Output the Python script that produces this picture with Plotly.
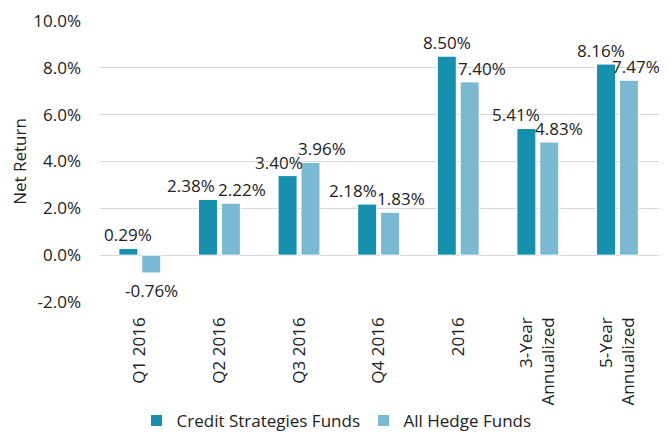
import plotly.graph_objects as go

categories = ["Q1 2016", "Q2 2016", "Q3 2016", "Q4 2016", "2016", "3-Year<br>Annualized", "5-Year<br>Annualized"]
credit = [0.29, 2.38, 3.40, 2.18, 8.50, 5.41, 8.16]
allhf = [-0.76, 2.22, 3.96, 1.83, 7.40, 4.83, 7.47]
ytick_vals = [-2, 0, 2, 4, 6, 8, 10]
ytick_text = ["-2.0%", "0.0%", "2.0%", "4.0%", "6.0%", "8.0%", "10.0%"]

# label nudges (px) mimicking the spreadsheet's collision avoidance
credit_label_dx = [0, -17, -8, -14, 0, -10, -5]
allhf_label_dx = [0, 11, 11, 11, 12, 10, 7]

# the page body keeps its default 8px margin, so the figure is sized to fill the rest
W, H = 659, 424
ML, MR, MT, MB = 92, 5, 13, 130
BARGAP, BARGROUPGAP = 0.425, 0.17
FONT = "Open Sans, Noto Sans, sans-serif"
TXT = "#222222"
FS = 17

fig = go.Figure()
fig.add_bar(x=categories, y=credit, name="Credit Strategies Funds",
            marker=dict(color="#1790ad", line=dict(color="white", width=1)))
fig.add_bar(x=categories, y=allhf, name="All Hedge Funds",
            marker=dict(color="#7bb9d2", line=dict(color="white", width=1)))

cat_px = (W - ML - MR) / len(categories)
slot = cat_px * (1 - BARGAP) / 2
anns = []
for series, dxs, sign in ((credit, credit_label_dx, -1), (allhf, allhf_label_dx, 1)):
    for i, (v, dx) in enumerate(zip(series, dxs)):
        neg = v < 0
        anns.append(dict(x=i, y=v, xref="x", yref="y", text=f"{v:.2f}%", showarrow=False,
                         xshift=sign * slot / 2 + dx, yshift=-4 if neg else 0,
                         yanchor="top" if neg else "bottom", xanchor="center",
                         font=dict(size=FS, color=TXT, family=FONT)))

fig.update_layout(
    width=W, height=H,
    margin=dict(l=ML, r=MR, t=MT, b=MB, autoexpand=False),
    paper_bgcolor="white", plot_bgcolor="white",
    barmode="group", bargap=BARGAP, bargroupgap=BARGROUPGAP,
    font=dict(family=FONT, size=FS, color=TXT),
    legend=dict(orientation="h", x=0.065, xanchor="left",
                yref="container", y=0.026, yanchor="middle",
                bgcolor="rgba(0,0,0,0)",
                font=dict(size=FS, color=TXT), entrywidth=182, entrywidthmode="pixels",
                traceorder="normal", itemclick=False),
    showlegend=True,
    annotations=anns,
)
fig.update_yaxes(range=[-2, 10], tickvals=ytick_vals, ticktext=ytick_text, automargin=False,
                 showgrid=True, gridcolor="#d9d9d9", gridwidth=1,
                 zeroline=True, zerolinecolor="#d9d9d9", zerolinewidth=1,
                 title=dict(text="Net Return", font=dict(size=FS, color=TXT), standoff=6),
                 ticks="", ticklabelstandoff=18, tickfont=dict(size=FS, color=TXT))
fig.update_xaxes(type="category", tickangle=-90, showline=False, ticks="", ticklabelstandoff=11,
                 automargin=False, tickfont=dict(size=FS, color=TXT))

fig.write_html("out.html")
